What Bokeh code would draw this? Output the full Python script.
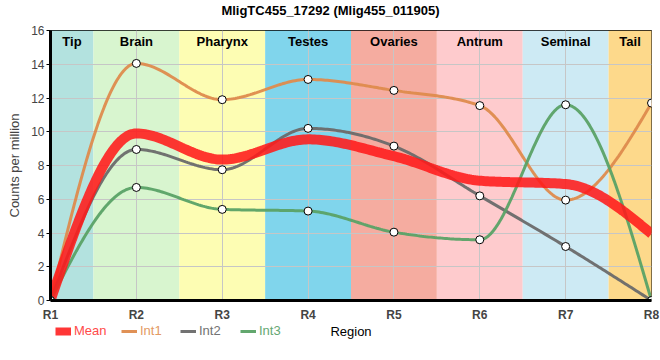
import numpy as np
from bokeh.plotting import figure
from bokeh.layouts import column
from bokeh.models import Legend, LegendItem, Range1d, FixedTicker, Label
from bokeh.core.properties import value
from bokeh.embed import file_html
from bokeh.resources import INLINE

# ---- data ----
title_text = "MligTC455_17292 (Mlig455_011905)"
regions = ["R1", "R2", "R3", "R4", "R5", "R6", "R7", "R8"]
tissues = ["Tip", "Brain", "Pharynx", "Testes", "Ovaries", "Antrum", "Seminal", "Tail"]
tissue_colors = ["#b3e2df", "#d8f5cf", "#fdfdb3", "#80d5ec", "#f5aca0", "#fecbcd", "#cdeaf4", "#fdd98b"]
mean = [0.0, 9.9, 8.35, 9.55, 8.55, 7.1, 6.9, 3.95]
int1 = [0.0, 14.05, 11.9, 13.1, 12.45, 11.55, 5.95, 11.7]
int2 = [0.0, 8.95, 7.75, 10.2, 9.15, 6.2, 3.2, 0.0]
int3 = [0.0, 6.7, 5.4, 5.3, 4.05, 3.6, 11.6, 0.0]

FONT = "Liberation Sans"
W = 660
H0, H1, H2 = 20, 304, 36
BL, BR = 50, 9


def monotone(xs, ys, n=40):
    xs = np.asarray(xs, float)
    ys = np.asarray(ys, float)
    h = np.diff(xs)
    s = np.diff(ys) / h
    m = len(xs)
    t = np.zeros(m)
    for i in range(1, m - 1):
        p = (s[i - 1] * h[i] + s[i] * h[i - 1]) / (h[i - 1] + h[i])
        t[i] = (np.sign(s[i - 1]) + np.sign(s[i])) * min(abs(s[i - 1]), abs(s[i]), 0.5 * abs(p))
    t[0] = (3 * s[0] - t[1]) / 2
    t[-1] = (3 * s[-1] - t[-2]) / 2
    ox, oy = [], []
    for i in range(m - 1):
        u = np.linspace(0, 1, n, endpoint=(i == m - 2))
        h00 = 2 * u**3 - 3 * u**2 + 1
        h10 = u**3 - 2 * u**2 + u
        h01 = -2 * u**3 + 3 * u**2
        h11 = u**3 - u**2
        ox.extend(xs[i] + u * h[i])
        oy.extend(h00 * ys[i] + h10 * h[i] * t[i] + h01 * ys[i + 1] + h11 * h[i] * t[i + 1])
    return ox, oy


xpos = list(range(1, len(regions) + 1))
yticks = list(range(0, 17, 2))
x0, x1 = xpos[0], xpos[-1]

# ---- title row (frame aligned with the chart) ----
p0 = figure(width=W, height=H0, output_backend="svg", toolbar_location=None,
            x_range=Range1d(x0, x1), y_range=Range1d(0, H0),
            min_border_left=BL, min_border_right=BR, min_border_top=0, min_border_bottom=0,
            x_axis_location=None, y_axis_location=None)
p0.xgrid.visible = False
p0.ygrid.visible = False
p0.outline_line_color = None
canvas_center_x = x0 + (W / 2 - BL) / (W - BL - BR) * (x1 - x0)
p0.add_layout(Label(x=canvas_center_x, y=H0 / 2, text=title_text, text_align="center",
                    text_baseline="middle", text_font=FONT, text_font_size="13px",
                    text_font_style="bold", text_color="black"))

# ---- main chart ----
p = figure(width=W, height=H1, output_backend="svg", toolbar_location=None,
           x_range=p0.x_range, y_range=Range1d(0, 16),
           min_border_left=BL, min_border_right=BR, min_border_top=10, min_border_bottom=24)
p.outline_line_color = "black"
p.outline_line_width = 1

# tissue bands
lefts = [x - 0.5 for x in xpos]
rights = [x + 0.5 for x in xpos]
p.quad(left=lefts, right=rights, bottom=0, top=16, fill_color=tissue_colors, line_color=None, level="image")
lab_x = [(max(l, x0) + min(r, x1)) / 2 for l, r in zip(lefts, rights)]
p.text(x=lab_x, y=[16] * len(tissues), text=tissues, text_align="center", text_baseline="top",
       y_offset=3, text_font=value(FONT), text_font_size="13px", text_font_style="bold", text_color="black")

# grid
p.xgrid.ticker = FixedTicker(ticks=xpos)
p.xgrid.grid_line_color = "#c6c6c6"
p.ygrid.grid_line_color = "#c6c6c6"
p.ygrid.ticker = FixedTicker(ticks=yticks)

# axes
p.xaxis.ticker = FixedTicker(ticks=xpos)
p.xaxis.major_label_overrides = {x: r for x, r in zip(xpos, regions)}
p.xaxis.major_label_text_font = FONT
p.xaxis.major_label_text_font_style = "bold"
p.xaxis.major_label_text_font_size = "12px"
p.xaxis.major_tick_line_color = None
p.xaxis.minor_tick_line_color = None
p.xaxis.axis_line_width = 3
p.xaxis.major_label_standoff = 1

p.yaxis.ticker = FixedTicker(ticks=yticks)
p.yaxis.major_label_text_font = FONT
p.yaxis.major_label_text_font_size = "12px"
p.yaxis.minor_tick_line_color = None
p.yaxis.major_tick_out = 4
p.yaxis.major_tick_in = 0
p.yaxis.axis_line_width = 3
p.yaxis.axis_label = "Counts per million"
p.yaxis.axis_label_text_font = FONT
p.yaxis.axis_label_text_font_size = "13px"
p.yaxis.axis_label_text_font_style = "normal"
p.yaxis.axis_label_standoff = 6
p.yaxis.major_label_standoff = 2

series = [("Int1", int1, "#de8b4d"), ("Int2", int2, "#6a6a6a"), ("Int3", int3, "#5aa266")]
for name, ys, col in series:
    sx, sy = monotone(xpos, ys)
    p.line(sx, sy, line_color=col, line_width=3, line_alpha=0.95)
mx, my = monotone(xpos, mean)
p.line(mx, my, line_color="#ff1a1a", line_width=10, line_alpha=0.88)
for name, ys, col in series:
    p.scatter(xpos, ys, size=8, marker="circle", fill_color="white", line_color="black", line_width=1)

# ---- legend row (frame aligned with the chart above) ----
p2 = figure(width=W, height=H2, output_backend="svg", toolbar_location=None,
            x_range=p0.x_range, y_range=Range1d(0, H2),
            min_border_left=BL, min_border_right=BR, min_border_top=0, min_border_bottom=0,
            x_axis_location=None, y_axis_location=None)
p2.xgrid.visible = False
p2.ygrid.visible = False
p2.outline_line_color = None

leg_specs = [("Mean", "#ff1a1a", 8, 0.88, "#ff4a4a", 5),
             ("Int1", "#de8b4d", 3, 0.95, "#e39a64", 71),
             ("Int2", "#6a6a6a", 3, 0.95, "#727272", 130),
             ("Int3", "#5aa266", 3, 0.95, "#66a873", 190)]
for name, col, lw, la, tcol, lx in leg_specs:
    r = p2.line(np.array([np.nan]), np.array([np.nan]), line_color=col, line_width=lw, line_alpha=la)
    lg = Legend(items=[LegendItem(label=name, renderers=[r])], location=(lx, H2 - 14),
                orientation="horizontal", label_text_color=tcol, label_text_font=FONT,
                label_text_font_size="13px", background_fill_alpha=0, border_line_alpha=0,
                glyph_width=16, glyph_height=12, padding=0, margin=0, label_standoff=3, spacing=0,
                label_height=14)
    p2.add_layout(lg, "center")

p2.add_layout(Label(x=(x0 + x1) / 2, y=H2 - 7, text="Region", text_align="center",
                    text_baseline="middle", text_font=FONT, text_font_size="13px", text_color="black"))

layout = column(p0, p, p2, spacing=0)
open("out.html", "w").write(file_html(layout, INLINE))
